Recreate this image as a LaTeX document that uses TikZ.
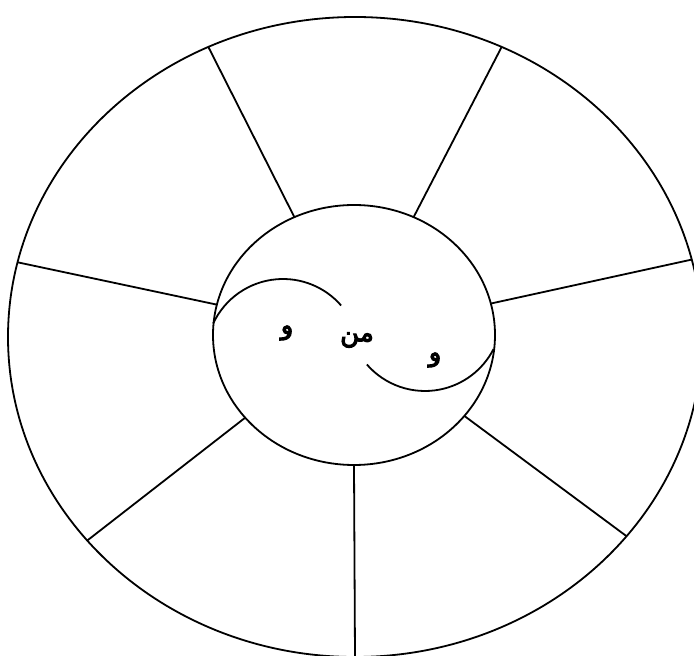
\documentclass[tikz,border=0pt]{standalone}
\usepackage{fontspec}
\usetikzlibrary{calc}
\TeXXeTstate=1
\newfontfamily\arabicfont[Script=Arabic]{DejaVu Sans}
\newcommand\heavytext[1]{\special{pdf:literal direct 0 0 0 RG 1.1 w 2 Tr}#1\special{pdf:literal direct 0 Tr}}
\tikzset{
  wheel/.style={draw=black, line width=1.8pt},
  word/.style={font=\arabicfont\fontsize{26}{30}\selectfont, inner sep=0pt}
}
\begin{document}
\begin{tikzpicture}[x=1pt,y=1pt]
\useasboundingbox (0,0) rectangle (694,656);
\clip (0,0) rectangle (694,656);
\fill[white] (0,0) rectangle (694,656);
\coordinate (oc) at (355,319);
\coordinate (ic) at (354,321);
% outer and inner rims
\draw[wheel] (oc) ellipse [x radius=347, y radius=320];
\draw[wheel] (ic) ellipse [x radius=141, y radius=130];
% spokes
\foreach \a [count=\k] in {65,115,166.5,219.5,270,321.5,14} {
  \coordinate (i\k) at ($(ic)+(\a:141 and 130)$);
  \coordinate (o\k) at ($(oc)+(\a:347 and 320)$);
  \draw[wheel] (i\k) -- (o\k);
}
% inner arcs
\coordinate (a1) at ($(283,300)+(155:77)$);
\draw[wheel] (a1) arc [start angle=155, end angle=41, radius=77];
\coordinate (a2) at ($(425,342)+(221:77)$);
\draw[wheel] (a2) arc [start angle=221, end angle=333, radius=77];
% words
\node[word] (w1) at (287,323) {\heavytext{\beginR و\endR}};
\node[word] (w2) at (357,316) {\heavytext{\beginR من\endR}};
\node[word] (w3) at (435,296) {\heavytext{\beginR و\endR}};
\end{tikzpicture}
\end{document}
